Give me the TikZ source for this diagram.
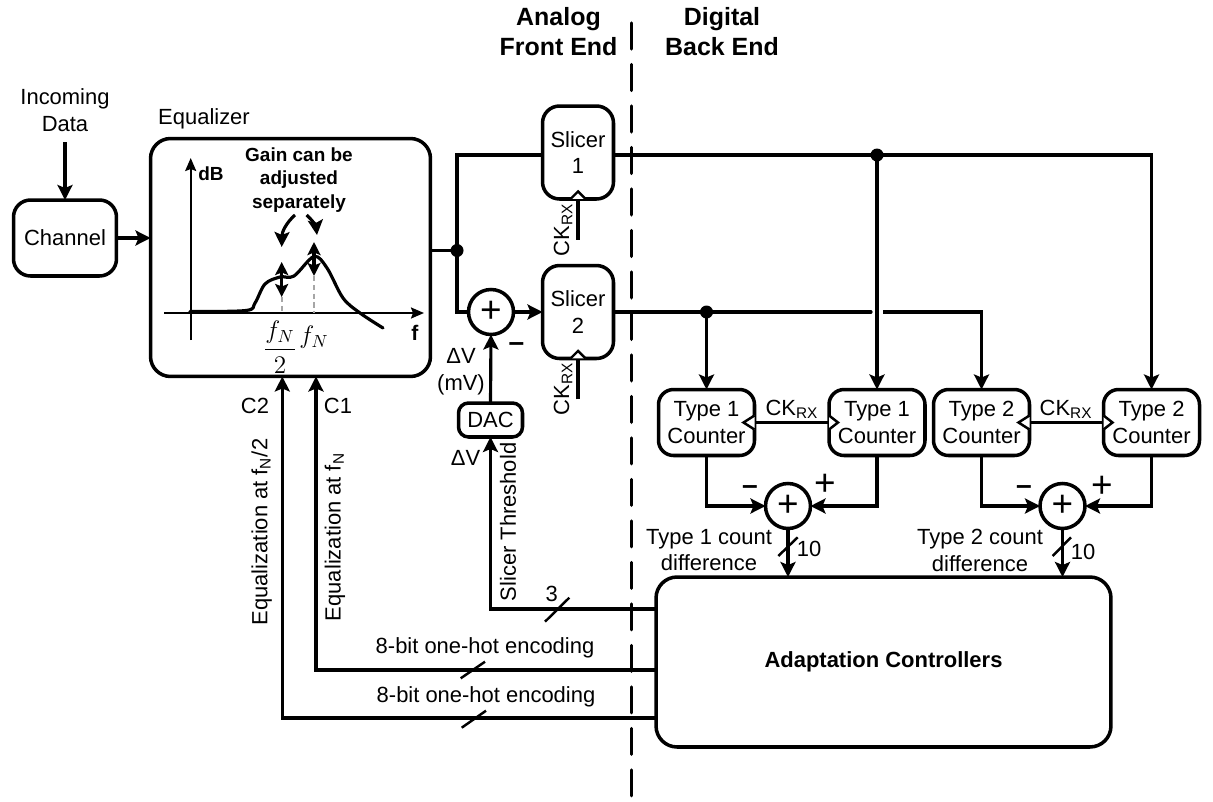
\documentclass[tikz,border=0pt]{standalone}
\usepackage{amsmath}
\usepackage{fontspec}
\setmainfont{Liberation Sans}
\usetikzlibrary{arrows.meta, calc}
\newcommand{\ckrx}{CK\textsubscript{RX}}

\begin{document}
\begin{tikzpicture}[
  x=0.02cm, y=-0.02cm,
  font=\fontsize{12.5}{15.3}\selectfont,
  block/.style={rectangle, draw, rounded corners=0.34cm, line width=2pt, align=center, inner sep=0pt, outer sep=0pt},
  slicer/.style={block, minimum width=1.42cm, minimum height=1.86cm},
  counter/.style={block, rounded corners=0.3cm, minimum width=1.92cm, minimum height=1.32cm},
  adder/.style={circle, draw, line width=2pt, minimum size=0.9cm, inner sep=0pt, outer sep=0pt, font=\fontsize{21}{21}\selectfont},
  lbl/.style={inner sep=0pt, align=center},
  boldlbl/.style={lbl, font=\fontsize{10.8}{13.6}\selectfont\bfseries},
  head/.style={lbl, font=\fontsize{14.2}{17}\selectfont\bfseries},
  minus/.style={lbl, font=\fontsize{16}{17}\selectfont\bfseries},
  plus/.style={lbl, font=\fontsize{21}{21}\selectfont},
  wire/.style={line width=1.8pt},
  arr/.style={wire, -{Stealth[length=3mm, width=3mm, inset=0.6mm]}},
  darr/.style={wire, {Stealth[length=2.6mm, width=2.6mm, inset=0.5mm]}-{Stealth[length=2.6mm, width=2.6mm, inset=0.5mm]}},
  slash/.style={line width=1.4pt},
  clk/.style={line width=1.4pt, fill=white},
  divider/.style={line width=1.8pt, line cap=round, dash pattern=on 0.52cm off 0.31cm}
]
\useasboundingbox (0,0) rectangle (1213,801);

% blocks
\node[block, minimum width=2.06cm, minimum height=1.52cm] (chan) at (65,238) {Channel};
\node[block, rounded corners=0.4cm, minimum width=5.6cm, minimum height=4.76cm] (eq) at (290.5,257.5) {};
\node[slicer] (sl1) at (578,152.5) {Slicer\\1};
\node[slicer] (sl2) at (578,312) {Slicer\\2};
\node[adder] (add0) at (491,312) {+};
\node[block, rounded corners=0.2cm, minimum width=1.28cm, minimum height=0.68cm] (dac) at (490.5,420) {DAC};
\node[counter] (cnt1) at (706.5,422.5) {Type 1\\Counter};
\node[counter] (cnt2) at (877,422.5) {Type 1\\Counter};
\node[counter] (cnt3) at (981.5,422.5) {Type 2\\Counter};
\node[counter] (cnt4) at (1151.5,422.5) {Type 2\\Counter};
\node[adder] (add1) at (788,506) {+};
\node[adder] (add2) at (1062.5,506) {+};
\node[block, rounded corners=0.42cm, minimum width=9.1cm, minimum height=3.4cm,
  font=\fontsize{12.5}{15}\selectfont\bfseries] (ctrl) at (883.5,662) {Adaptation Controllers};

% titles
\node[head] (afe) at (558.5,32) {Analog\\Front End};
\node[head] (dbe) at (722,32) {Digital\\Back End};
\coordinate (divtop) at (631.5,23);
\coordinate (divbot) at (631.5,796);
\draw[divider] (divtop) -- (divbot);

% input side
\node[lbl] (incoming) at (65,110) {Incoming\\Data};
\node[lbl] (eqname) at (204,119) {Equalizer};
\coordinate (intop) at (65,142);
\draw[arr] (intop) -- (chan.north);
\draw[arr] (chan.east) -- (eq.west |- chan.east);

% gain plot
\coordinate (yaxb) at (190.7,340);
\coordinate (yaxt) at (190.7,158);
\coordinate (xaxl) at (164,313);
\coordinate (xaxr) at (424,313);
\draw[wire, line width=1.2pt, -{Stealth[length=2.6mm, width=2.2mm, inset=0.4mm]}] (yaxb) -- (yaxt);
\draw[wire, line width=1.2pt, -{Stealth[length=2.6mm, width=2.2mm, inset=0.4mm]}] (xaxl) -- (xaxr);
\draw[wire, line cap=round] plot[smooth, tension=0.55] coordinates {(190,311.5) (246,310.5) (255,303) (265,284) (280,277) (294,276) (314,256.5) (327,268) (343,298) (360,313) (383,328)};
\draw[densely dashed, gray!70, line width=1pt] (281.7,297) -- (281.7,313);
\draw[densely dashed, gray!70, line width=1pt] (314,276) -- (314,313);
\draw[darr] (281.7,262) -- (281.7,297);
\draw[darr] (314,242) -- (314,276);
\node[boldlbl] (gain) at (299,180) {Gain can be\\adjusted\\separately};
\node[boldlbl] (db) at (211,174) {dB};
\node[boldlbl, font=\fontsize{12}{12}\selectfont\bfseries] (fq) at (415,333) {f};
\coordinate (gaina) at (295,215);
\coordinate (gainb) at (306.7,215);
\coordinate (peaka) at (281.7,247);
\coordinate (peakb) at (317,235);
\draw[arr] (gaina) .. controls (286,223) and (282,232) .. (peaka);
\draw[arr] (gainb) .. controls (312,220) and (316,226) .. (peakb);
\node[lbl, font=\fontsize{14}{17}\selectfont] (fhalf) at (280,347) {$\dfrac{f_N}{2}$};
\node[lbl, font=\fontsize{14}{17}\selectfont] (fnyq) at (314,337) {$f_N$};

% analog paths
\coordinate (j1) at (457,250.5);
\draw[wire] (eq.east |- j1) -- (j1);
\draw[wire] (sl1.west |- 0,155) -| (j1) |- (add0.west);
\fill (j1) circle (6.5);
\draw[arr] (add0.east) -- (sl2.west);
\draw[arr] (dac.north) -- (add0.south);
\node[lbl] (dv) at (461,372) {ΔV\\(mV)};
\node[minus] (dvm) at (516.5,347) {--};
\node[lbl] (dvb) at (465.5,458) {ΔV};
\coordinate (ck1) at ($(sl1.south)+(0,41)$);
\coordinate (ck2) at ($(sl2.south)+(0,41)$);
\draw[wire] (ck1) -- (sl1.south);
\draw[wire] (ck2) -- (sl2.south);
\draw[clk] ($(sl1.south)+(-7.5,0)$) -- ++(7.5,-7.5) -- ++(7.5,7.5);
\draw[clk] ($(sl2.south)+(-7.5,0)$) -- ++(7.5,-7.5) -- ++(7.5,7.5);
\node[lbl, rotate=90] (ckl1) at (563,230) {\ckrx};
\node[lbl, rotate=90] (ckl2) at (563,389) {\ckrx};

% digital paths
\coordinate (j2) at (cnt2.north |- 0,155);
\coordinate (j3) at (cnt1.north |- sl2.east);
\coordinate (gapa) at (871,312);
\coordinate (gapb) at (883,312);
\draw[wire] (sl1.east |- j2) -- (j2);
\draw[arr] (j2) -| (cnt4.north);
\draw[arr] (j2) -- (cnt2.north);
\draw[wire, line cap=round] (sl2.east) -- (gapa);
\draw[arr] (gapb) -| (cnt3.north);
\draw[arr] (j3) -- (cnt1.north);
\fill (j2) circle (6.5);
\fill (j3) circle (6.5);

% counter clocks
\draw[wire] (cnt1.east) -- (cnt2.west);
\draw[wire] (cnt3.east) -- (cnt4.west);
\draw[clk] ($(cnt1.east)+(0,-7)$) -- ++(-11,7) -- ++(11,7);
\draw[clk] ($(cnt2.west)+(0,-7)$) -- ++(9,7) -- ++(-9,7);
\draw[clk] ($(cnt3.east)+(0,-7)$) -- ++(-11,7) -- ++(11,7);
\draw[clk] ($(cnt4.west)+(0,-7)$) -- ++(9,7) -- ++(-9,7);
\node[lbl] (ckl3) at (792,409) {\ckrx};
\node[lbl] (ckl4) at (1066,409) {\ckrx};

% count differences
\draw[arr] (cnt1.south) |- (add1.west);
\draw[arr] (cnt2.south) |- (add1.east);
\draw[arr] (cnt3.south) |- (add2.west);
\draw[arr] (cnt4.south) |- (add2.east);
\node[minus] (m1) at (750,490) {--};
\node[minus] (m2) at (1024,490) {--};
\node[plus] (p1) at (825,485) {+};
\node[plus] (p2) at (1102,487) {+};
\draw[arr] (add1.south) -- (add1.south |- ctrl.north);
\draw[arr] (add2.south) -- (add2.south |- ctrl.north);
\draw[slash] (778.3,556) -- (797.7,537.3);
\draw[slash] (1052.7,556) -- (1071,537.3);
\node[lbl] (n1) at (809,549) {10};
\node[lbl] (n2) at (1083,551.5) {10};
\node[lbl] (d1) at (709,550) {Type 1 count\\difference};
\node[lbl] (d2) at (980,550) {Type 2 count\\difference};

% control paths
\coordinate (cth) at (dac.south |- 0,609);
\coordinate (cc1) at (316,670);
\coordinate (cc2) at (282.3,718);
\draw[arr] (ctrl.west |- cth) -- (cth) -- (dac.south);
\draw[arr] (ctrl.west |- cc1) -- (cc1) -- (cc1 |- eq.south);
\draw[arr] (ctrl.west |- cc2) -- (cc2) -- (cc2 |- eq.south);
\draw[slash] (545,621.7) -- (569.3,597.7);
\draw[slash] (460.7,678.3) -- (485,661.7);
\draw[slash] (461.7,727.7) -- (486,710.7);
\node[lbl] (n3) at (551.7,594) {3};
\node[lbl] (enc1) at (485,648) {8-bit one-hot encoding};
\node[lbl] (enc2) at (486,696.7) {8-bit one-hot encoding};
\node[lbl] (c2) at (255,406) {C2};
\node[lbl] (c1) at (338,406) {C1};
\node[lbl, rotate=90] (eql2) at (261.7,532) {Equalization at f\textsubscript{N}/2};
\node[lbl, rotate=90] (eql1) at (335,537) {Equalization at f\textsubscript{N}};
\node[lbl, rotate=90] (thr) at (508,522) {Slicer Threshold};
\end{tikzpicture}
\end{document}
